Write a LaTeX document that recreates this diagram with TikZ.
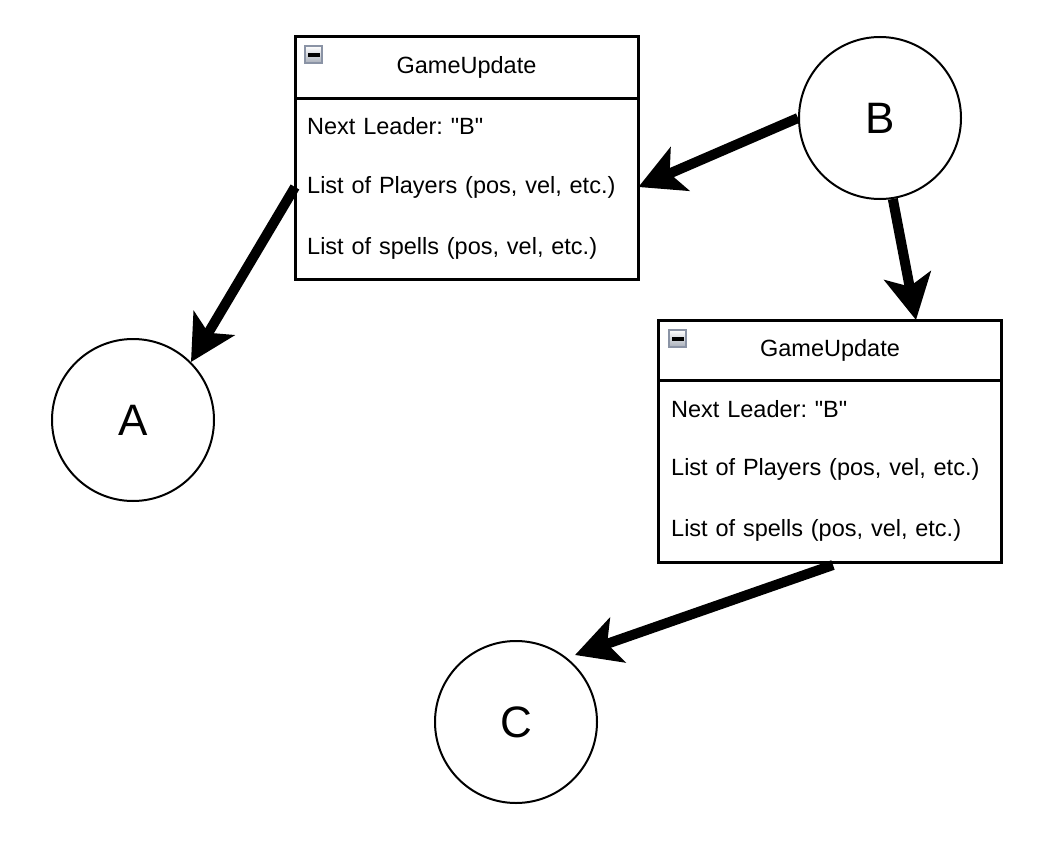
\documentclass[tikz,border=0pt]{standalone}
\usepackage{fontspec}
\setmainfont{Liberation Sans}
\usetikzlibrary{arrows.meta,calc}
\frenchspacing
\begin{document}
\begin{tikzpicture}[x=1pt,y=-1pt,
  boxframe/.style={draw=black,line width=3pt,minimum width=343pt,minimum height=242pt,inner sep=0pt},
  rowtext/.style={anchor=west,inner xsep=12pt,inner ysep=0pt,text width=319pt,minimum height=30pt,align=left,font=\fontsize{23.5}{28}\selectfont},
  titletext/.style={inner sep=0pt,font=\fontsize{23.5}{28}\selectfont},
  peer/.style={circle,draw=black,line width=2pt,minimum size=162pt,inner sep=0pt,font=\fontsize{44}{50}\selectfont},
  bigarrow/.style={line width=10pt,-{Stealth[length=45pt,width=47pt,inset=11pt]}},
  iconbox/.style={draw=iconedge,line width=1.5pt,top color=white,bottom color=icongray,minimum size=17pt,inner sep=0pt}
]
\definecolor{iconedge}{HTML}{8A93A5}
\definecolor{icongray}{HTML}{A9AFBA}
\useasboundingbox (0,0) rectangle (1039,843);

% ---- box 1 ----
\node[boxframe] (g1) at (466.5,158) {};
\draw[line width=3pt] (295,98) -- (638,98);
\node[titletext] (t1) at (466.5,67) {GameUpdate};
\node[iconbox] (i1) at (313.5,54.5) {};
\fill (307.5,53) rectangle (319.5,57);
\node[rowtext] (a1) at (295,126) {Next Leader: \textquotedbl B\textquotedbl};
\node[rowtext] (p1) at (295,187) {List of Players (pos, vel, etc.)};
\node[rowtext] (s1) at (295,248) {List of spells (pos, vel, etc.)};

% ---- box 2 ----
\node[boxframe] (g2) at (830,441) {};
\draw[line width=3pt] (659,380) -- (1001,380);
\node[titletext] (t2) at (830,350) {GameUpdate};
\node[iconbox] (i2) at (677.5,338.5) {};
\fill (671.5,337) rectangle (683.5,341);
\node[rowtext] (a2) at (659,409) {Next Leader: \textquotedbl B\textquotedbl};
\node[rowtext] (p2) at (659,469) {List of Players (pos, vel, etc.)};
\node[rowtext] (s2) at (659,530) {List of spells (pos, vel, etc.)};

% ---- peers ----
\node[peer] (B) at (880,118) {B};
\node[peer] (A) at (133,420) {A};
\node[peer] (C) at (516,722) {C};

\coordinate (g2in) at (916,320);
\coordinate (g2out) at (833,565);
\coordinate (Cin) at (575,655);

% ---- arrows ----
\draw[bigarrow] (p1.west) -- (A.45);
\draw[bigarrow] (B.west) -- (p1.east);
\draw[bigarrow] (B.-81) -- (g2in);
\draw[bigarrow] (g2out) -- (Cin);
\end{tikzpicture}
\end{document}
